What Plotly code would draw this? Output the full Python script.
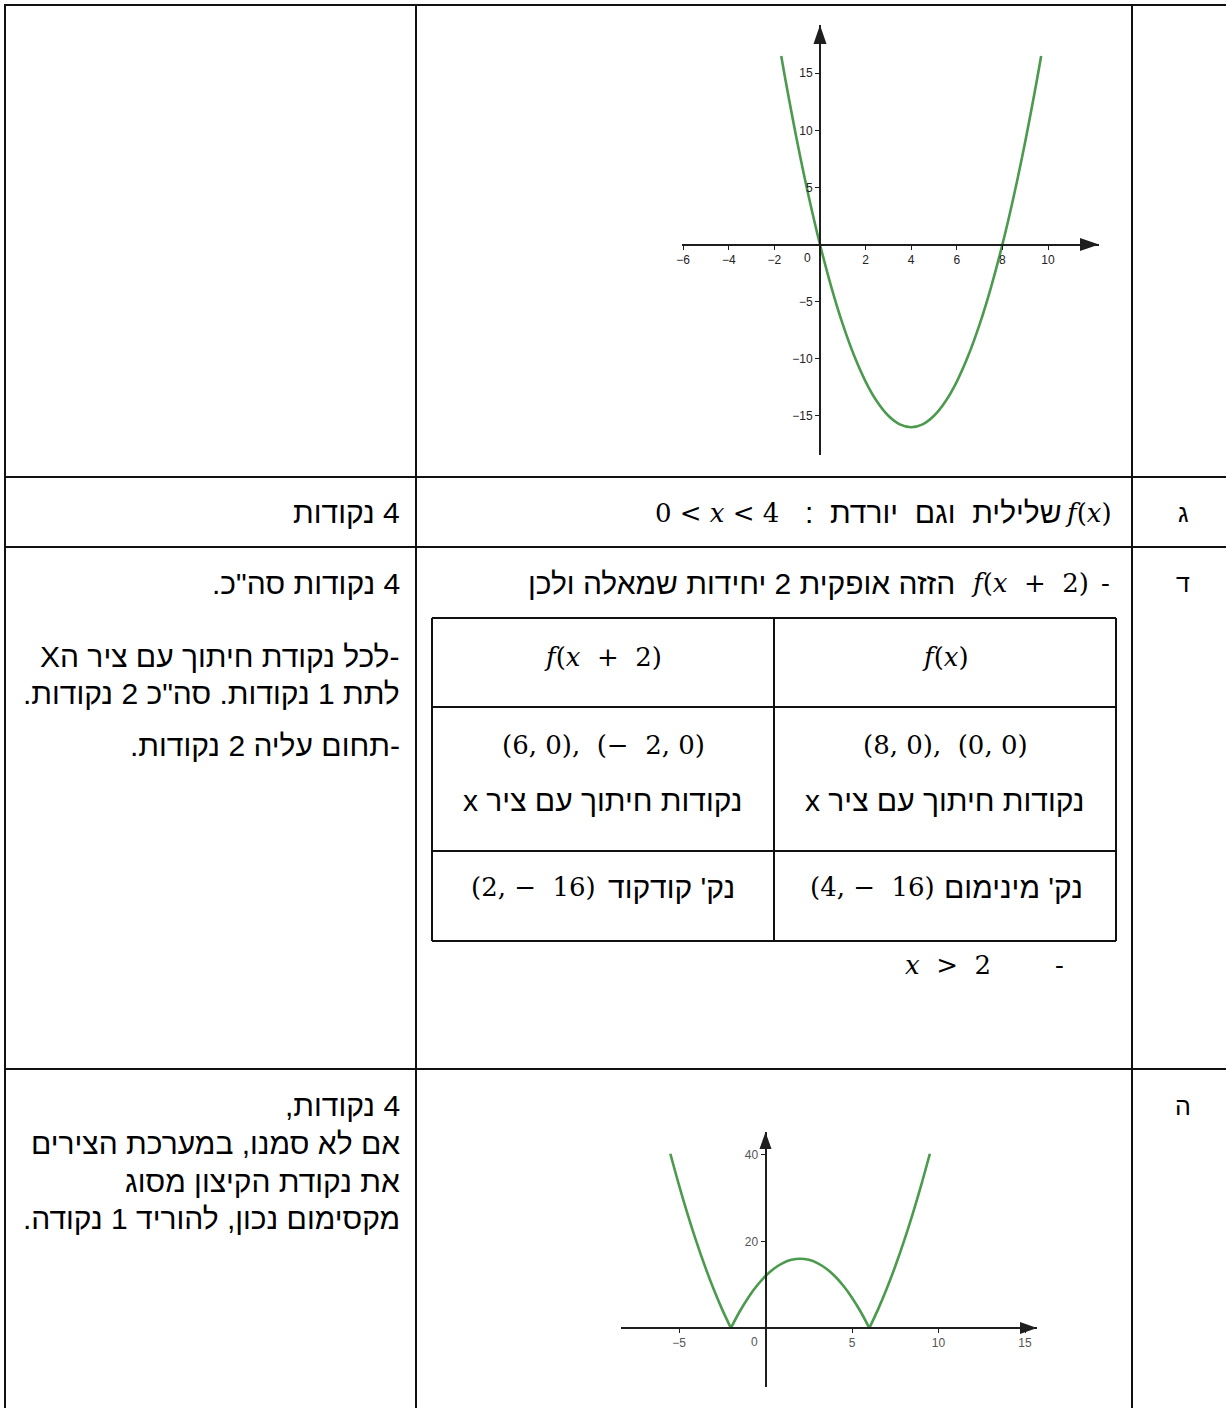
import plotly.graph_objects as go

# ---------------------------------------------------------------- data
# f(x) = x^2 - 8x
f_x = [-1.7, -1.5, -1, -0.5, 0, 0.5, 1, 1.5, 2, 2.5, 3, 3.5, 4,
       4.5, 5, 5.5, 6, 6.5, 7, 7.5, 8, 8.5, 9, 9.5, 9.7]
f_y = [16.5, 14.25, 9, 4.25, 0, -3.75, -7, -9.75, -12, -13.75, -15, -15.75, -16,
       -15.75, -15, -13.75, -12, -9.75, -7, -3.75, 0, 4.25, 9, 14.25, 16.5]

# |f(x + 2)| (cusps at the x-intercepts)
g_x = [-5.5, -5, -4.5, -4, -3.5, -3, -2.5, -2,
       -1.5, -1, -0.5, 0, 0.5, 1, 1.5, 2, 2.5, 3, 3.5, 4, 4.5, 5, 5.5, 6,
       6.5, 7, 7.5, 8, 8.5, 9, 9.5]
g_y = [40.25, 33, 26.25, 20, 14.25, 9, 4.25, 0,
       3.75, 7, 9.75, 12, 13.75, 15, 15.75, 16, 15.75, 15, 13.75, 12, 9.75, 7, 3.75, 0,
       4.25, 9, 14.25, 20, 26.25, 33, 40.25]

f_xticks = [-6, -4, -2, 2, 4, 6, 8, 10]
f_yticks = [-15, -10, -5, 5, 10, 15]
g_xticks = [-5, 5, 10, 15]
g_yticks = [20, 40]

# ---------------------------------------------------------------- text
row_letters = ["ג", "ד", "ה"]
score_g = "4 נקודות"
score_d = ["4 נקודות סה\"כ.",
           "-לכל נקודת חיתוך עם ציר הX",
           "לתת 1 נקודות. סה\"כ 2 נקודות.",
           "-תחום עליה 2 נקודות."]
score_h = ["4 נקודות,",
           "אם לא סמנו, במערכת הצירים",
           "את נקודת הקיצון מסוג",
           "מקסימום נכון, להוריד 1 נקודה."]
NB = "\u00a0"
ans_g_text = "שלילית" + NB * 2 + "וגם" + NB * 2 + "יורדת" + NB * 2 + ":"
ans_d_text = "הזזה אופקית 2 יחידות שמאלה ולכן"
col_heads = ["<i>f</i>(<i>x</i>" + NB * 2 + "+" + NB * 2 + "2)", "<i>f</i>(<i>x</i>)"]
intercepts = ["(6," + NB + "0)," + NB * 2 + "(−" + NB * 2 + "2," + NB + "0)",
              "(8," + NB + "0)," + NB * 2 + "(0," + NB + "0)"]
intercept_label = "נקודות חיתוך עם ציר x"
vertex_math = ["(2," + NB + "−" + NB * 2 + "16)", "(4," + NB + "−" + NB * 2 + "16)"]
vertex_label = ["נק' קודקוד", "נק' מינימום"]
interval_g = "0" + NB + "<" + NB + "<i>x</i>" + NB + "<" + NB + "4"
interval_d = "<i>x</i>" + NB * 2 + ">" + NB * 2 + "2"

# ---------------------------------------------------------------- helpers
W, H = 1226, 1408
HEB = "Liberation Sans, Arial, DejaVu Sans, sans-serif"
MATH = "DejaVu Serif, Liberation Serif, serif"
RLE, PDF = "\u202b", "\u202c"
GREEN = "#4b9a4e"
INK = "#111111"
HS = 30   # Hebrew text size
MS = 26   # math text size


def px(x):
    return x / W


def py(y):
    return 1 - y / H


def minus(v):
    return str(v).replace("-", "\u2212")


shapes = []
annotations = []


def hline(y, x0, x1, w=2):
    shapes.append(dict(type="line", xref="paper", yref="paper",
                       x0=px(x0), x1=px(x1), y0=py(y), y1=py(y),
                       line=dict(color=INK, width=w)))


def vline(x, y0, y1, w=2):
    shapes.append(dict(type="line", xref="paper", yref="paper",
                       x0=px(x), x1=px(x), y0=py(y0), y1=py(y1),
                       line=dict(color=INK, width=w)))


def text(s, x, y, size=HS, anchor="right", family=HEB, rtl=True, color="#000"):
    if rtl:
        s = RLE + s + PDF
    annotations.append(dict(text=s, xref="paper", yref="paper",
                            x=px(x), y=py(y), xanchor=anchor, yanchor="middle",
                            showarrow=False,
                            font=dict(family=family, size=size, color=color)))


def math(s, x, y, anchor="right"):
    text(s, x, y, size=MS, anchor=anchor, family=MATH, rtl=False)


def arrow(tip, direction, length=19, half=6.5):
    tx, ty = tip
    if direction == "right":
        pts = [(tx, ty), (tx - length, ty - half), (tx - length, ty + half)]
    else:
        pts = [(tx, ty), (tx - half, ty + length), (tx + half, ty + length)]
    path = "M " + " L ".join(f"{px(a)} {py(b)}" for a, b in pts) + " Z"
    shapes.append(dict(type="path", xref="paper", yref="paper", path=path,
                       fillcolor="#1e1e1e", line=dict(width=0)))


# ---------------------------------------------------------------- table grid
hline(5, 4, W)
hline(477, 4, W)
hline(547, 4, W)
hline(1069, 4, W)
vline(5, 4, H)
vline(416, 4, H)
vline(1132, 4, H)

# inner comparison table
hline(618, 432, 1116)
hline(707, 432, 1116)
hline(851, 432, 1116)
hline(941, 432, 1116)
vline(432, 618, 941)
vline(774, 618, 941)
vline(1116, 618, 941)

# ---------------------------------------------------------------- text cells
for letter, y in zip(row_letters, [513, 583, 1106]):
    text(letter, 1183, y, size=25, anchor="center")

text(score_g, 402, 513)
for s, y in zip(score_d, [583, 657, 693, 745]):
    text(s, 402, y)
for s, y in zip(score_h, [1105, 1143, 1181, 1218]):
    text(s, 402, y)

# row ג
math(col_heads[1], 1114, 513)
text(ans_g_text, 1064, 513)
math(interval_g, 781, 513)

# row ד
math("-", 1112, 583)
math(col_heads[0], 1091, 583)
text(ans_d_text, 957, 583)

for i, cx in enumerate([603, 945]):
    math(col_heads[i], cx, 657, anchor="center")
    math(intercepts[i], cx, 745, anchor="center")
    text(intercept_label, cx, 800, anchor="center")

math(vertex_math[0], 598, 887)
text(vertex_label[0], 737, 887)
math(vertex_math[1], 937, 887)
text(vertex_label[1], 1085, 887)

math(interval_d, 993, 965)
math("-", 1066, 965)

# ---------------------------------------------------------------- graphs
fig = go.Figure()

fig.add_trace(go.Scatter(x=f_x, y=f_y, mode="lines",
                         line=dict(color=GREEN, width=2.6, shape="spline"),
                         xaxis="x", yaxis="y", hoverinfo="skip"))

# split |f(x+2)| at its zeros so the cusps stay sharp
seg_x, seg_y = [g_x[0]], [g_y[0]]
for xv, yv in zip(g_x[1:], g_y[1:]):
    seg_x.append(xv)
    seg_y.append(yv)
    if yv == 0:
        fig.add_trace(go.Scatter(x=seg_x, y=seg_y, mode="lines",
                                 line=dict(color=GREEN, width=2.6, shape="spline"),
                                 xaxis="x2", yaxis="y2", hoverinfo="skip"))
        seg_x, seg_y = [xv], [yv]
fig.add_trace(go.Scatter(x=seg_x, y=seg_y, mode="lines",
                         line=dict(color=GREEN, width=2.6, shape="spline"),
                         xaxis="x2", yaxis="y2", hoverinfo="skip"))


def axis(domain, rng, position, ticks, color, lw):
    return dict(domain=domain, range=rng, anchor="free", position=position,
                showline=True, linecolor="#1e1e1e", linewidth=lw,
                ticks="outside", ticklen=4, tickwidth=1, tickcolor="#1e1e1e",
                tickvals=ticks, ticktext=[minus(t) for t in ticks],
                tickfont=dict(family=HEB, size=12, color=color),
                showgrid=False, zeroline=False, fixedrange=True)


# first graph: origin at (820, 244.5) px, 22.8 px per x unit, 11.42 px per y unit
x1_dom = [px(682), px(1099)]
y1_dom = [py(455), py(25)]
xa1 = axis(x1_dom, [(682 - 820) / 22.8, (1099 - 820) / 22.8], py(244.5),
           f_xticks, "#222", 2)
ya1 = axis(y1_dom, [(244.5 - 455) / 11.42, (244.5 - 25) / 11.42], px(820),
           f_yticks, "#222", 2)

# second graph: origin at (765.5, 1328) px, 17.3 px per x unit, 4.33 px per y unit
x2_dom = [px(621), px(1037)]
y2_dom = [py(1387), py(1132)]
xa2 = axis(x2_dom, [(621 - 765.5) / 17.3, (1037 - 765.5) / 17.3], py(1328),
           g_xticks, "#555", 2)
ya2 = axis(y2_dom, [(1328 - 1387) / 4.33, (1328 - 1132) / 4.33], px(765.5),
           g_yticks, "#555", 2)

arrow((1099, 244.5), "right")
arrow((820, 25), "up")
arrow((1037, 1328), "right", length=17, half=6)
arrow((765.5, 1132), "up", length=17, half=6)

annotations.append(dict(text="0", xref="x", yref="y", x=0, y=0, xshift=-13,
                        yshift=-14, showarrow=False,
                        font=dict(family=HEB, size=12, color="#222")))
annotations.append(dict(text="0", xref="x2", yref="y2", x=0, y=0, xshift=-11,
                        yshift=-14, showarrow=False,
                        font=dict(family=HEB, size=12, color="#555")))

fig.update_layout(
    width=W, height=H,
    margin=dict(l=0, r=0, t=0, b=0, pad=0, autoexpand=False),
    paper_bgcolor="white", plot_bgcolor="rgba(0,0,0,0)",
    showlegend=False,
    xaxis=xa1, yaxis=ya1, xaxis2=xa2, yaxis2=ya2,
    shapes=shapes, annotations=annotations,
)

fig.write_html("out.html")
